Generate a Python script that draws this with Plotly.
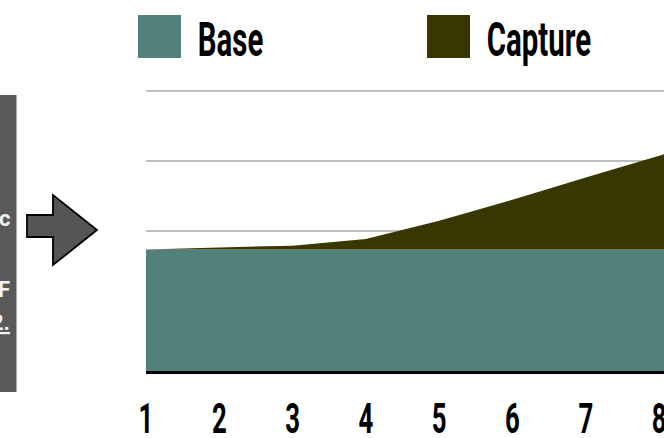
import plotly.graph_objects as go

# Period index along the x axis
periods = [1, 2, 3, 4, 5, 6, 7, 8, 9]
# Base level stays flat; capture is stacked on top of it
base_values = [1.736, 1.736, 1.736, 1.736, 1.736, 1.736, 1.736, 1.736, 1.736]
capture_values = [0.0, 0.03, 0.055, 0.15, 0.41, 0.71, 1.03, 1.34, 1.66]
tick_labels = ["1", "2", "3", "4", "5", "6", "7", "8", "9"]
series_names = ["Base", "Capture"]

BASE_COLOR = "#54807c"
CAPTURE_COLOR = "#393700"
FONT = "Roboto, DejaVu Sans, sans-serif"

W, H = 664, 438
L, R, T, B = 146, 0, 88, 67
PW, PH = W - L - R, H - T - B


def xp(px):
    return (px - L) / PW


def yp(py):
    return (H - B - py) / PH


fig = go.Figure()
fig.add_trace(go.Scatter(x=periods, y=base_values, name=series_names[0],
                         stackgroup="one", mode="none",
                         fillcolor=BASE_COLOR, hoverinfo="skip"))
fig.add_trace(go.Scatter(x=periods, y=capture_values, name=series_names[1],
                         stackgroup="one", mode="none",
                         fillcolor=CAPTURE_COLOR, hoverinfo="skip"))

shapes = []
annotations = []

# Grey side panel on the left
shapes.append(dict(type="rect", xref="paper", yref="paper",
                   x0=xp(-5), x1=xp(16.5), y0=yp(392), y1=yp(95),
                   fillcolor="#595959", line=dict(width=0), layer="above"))
for txt, py in [("c", 218), ("F", 289), ("<u>2.</u>", 322)]:
    annotations.append(dict(text=f"<b>{txt}</b>", xref="paper", yref="paper",
                            x=xp(11.5), y=yp(py), xanchor="right", yanchor="middle",
                            showarrow=False,
                            font=dict(family=FONT, size=22, color="#f2f2f2")))

# Block arrow pointing at the chart
arrow_pts = [(27, 215), (53, 215), (53, 195), (97, 230),
             (53, 265), (53, 237), (27, 237)]
path = "M " + " L ".join(f"{xp(x):.5f},{yp(y):.5f}" for x, y in arrow_pts) + " Z"
shapes.append(dict(type="path", xref="paper", yref="paper", path=path,
                   fillcolor="#555555", line=dict(color="#000000", width=1.8),
                   layer="above"))

# Legend: square swatches with labels (labels centred on their text span)
for sx, tcx, name, col in [(138, 230, series_names[0], BASE_COLOR),
                           (427, 539, series_names[1], CAPTURE_COLOR)]:
    shapes.append(dict(type="rect", xref="paper", yref="paper",
                       x0=xp(sx), x1=xp(sx + 43), y0=yp(58), y1=yp(15),
                       fillcolor=col, line=dict(width=0), layer="above"))
    annotations.append(dict(text=f"<b>{name}</b>", xref="paper", yref="paper",
                            x=xp(tcx), y=yp(39), xanchor="center", yanchor="middle",
                            showarrow=False,
                            font=dict(family=FONT, size=49, color="#000000")))

fig.update_layout(
    width=W, height=H,
    margin=dict(l=L, r=R, t=T, b=B, pad=0, autoexpand=False),
    paper_bgcolor="white", plot_bgcolor="white",
    showlegend=False,
    shapes=shapes, annotations=annotations,
    xaxis=dict(range=[1, 1 + PW / 73.3], tickvals=periods,
               ticktext=[f"<b>{t}</b>" for t in tick_labels],
               showgrid=False, zeroline=False, automargin=False,
               showline=True, linecolor="#000000", linewidth=2.5,
               ticks="", ticklabelstandoff=8, ticklabeloverflow="allow",
               tickfont=dict(family=FONT, size=43, color="#000000"),
               fixedrange=True),
    yaxis=dict(range=[0, PH / 70.0], tickvals=[1, 2, 3, 4], automargin=False,
               showticklabels=False, showgrid=True, gridcolor="#bfbfbf",
               gridwidth=2.2, zeroline=False, showline=False, ticks="",
               fixedrange=True),
)

# Large headline-style labels use a condensed face: narrow them horizontally
# around their own centre after Plotly has drawn them.
condense_js = """
(function () {
  var gd = document.querySelector('.js-plotly-plot');
  if (!gd) return;
  function condense() {
    gd.querySelectorAll('text').forEach(function (t) {
      var fs = parseFloat(window.getComputedStyle(t).fontSize);
      if (!(fs >= 30)) return;
      var tr = t.getAttribute('transform') || '';
      if (tr.indexOf('scale(0.6') >= 0) return;
      var bb = t.getBBox();
      var cx = bb.x + bb.width / 2;
      t.setAttribute('transform', tr + ' translate(' + cx + ',0) scale(0.6,1) translate(' + (-cx) + ',0)');
    });
  }
  condense();
  if (gd.on) gd.on('plotly_afterplot', function () { setTimeout(condense, 0); });
})();
"""

fig.write_html("out.html", config={"displayModeBar": False}, post_script=condense_js)
